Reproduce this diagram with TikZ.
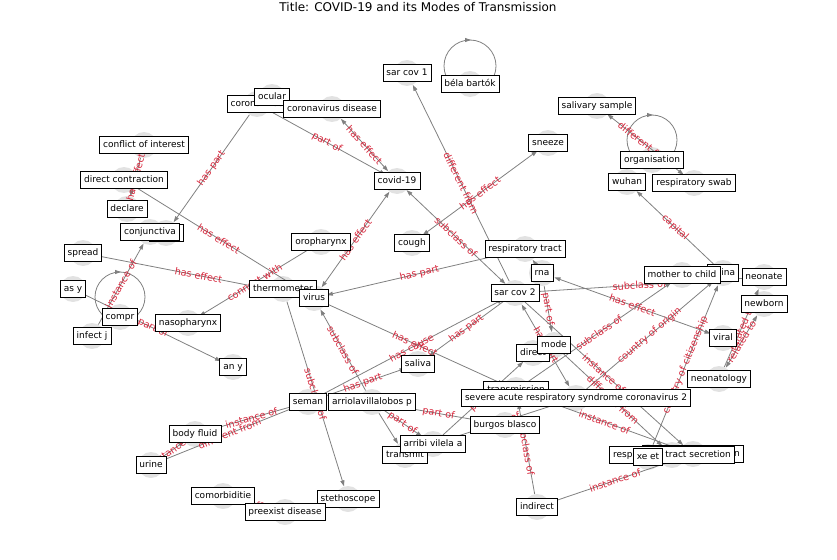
\documentclass[tikz,border=0pt]{standalone}
\usepackage{fontspec}
\setmainfont{DejaVu Sans}
\usetikzlibrary{arrows.meta}
\definecolor{elred}{RGB}{214,39,60}
\definecolor{ndgray}{RGB}{226,226,226}
\definecolor{edgray}{RGB}{128,128,128}
\newcommand\lbfont{\fontsize{9}{10}\selectfont}
\newcommand\elfont{\fontsize{9.7}{11}\selectfont}
\tikzset{
  nd/.style={circle, fill=ndgray, minimum size=26pt, inner sep=0pt},
  lb/.style={draw=black, fill=white, font=\lbfont, inner xsep=3.5pt, inner ysep=4pt,
             text height=6.9pt, text depth=2.1pt, line width=0.7pt},
  edline/.style={draw=edgray, line width=0.8pt},
  e/.style={edline, -{Triangle[length=6pt,width=4pt]}},
  eb/.style={edline, {Triangle[length=6pt,width=4pt]}-{Triangle[length=6pt,width=4pt]}},
  en/.style={edline},
  el/.style={midway, sloped, font=\elfont, text=elred, inner sep=0pt}
}
\begin{document}
\begin{tikzpicture}[x=1pt,y=-1pt]
\path[use as bounding box] (0,0) rectangle (837,559);
\node[font=\fontsize{12}{14}\selectfont] (title) at (418,7) {Title: COVID-19 and its Modes of Transmission};
% node circles
\node[nd] (sarcov1) at (407,73) {};
\node[nd] (bela) at (470,84) {};
\node[nd] (salivary) at (597,106) {};
\node[nd] (sneeze) at (548,143) {};
\node[nd] (organisation) at (652,160) {};
\node[nd] (wuhan) at (627,182) {};
\node[nd] (swab) at (694,183) {};
\node[nd] (china) at (723,273) {};
\node[nd] (mtc) at (682,275) {};
\node[nd] (neonate) at (764,277) {};
\node[nd] (newborn) at (764,304) {};
\node[nd] (viral) at (723,338) {};
\node[nd] (neonatology) at (719,379) {};
\node[nd] (resptract) at (525,249) {};
\node[nd] (rna) at (542,273) {};
\node[nd] (sarcov2) at (515,293) {};
\node[nd] (cough) at (412,243) {};
\node[nd] (covid) at (397,181) {};
\node[nd] (cordis) at (332,109) {};
\node[nd] (ocular) at (272,97) {};
\node[nd] (coron) at (257,104) {};
\node[nd] (coi) at (144,145) {};
\node[nd] (dircon) at (124,180) {};
\node[nd] (declare) at (127,209) {};
\node[nd] (conj) at (150,232) {};
\node[nd] (hid1) at (166,233) {};
\node[nd] (spread) at (83,253) {};
\node[nd] (asy) at (73,289) {};
\node[nd] (compr) at (120,317) {};
\node[nd] (infectj) at (92,336) {};
\node[nd] (naso) at (188,323) {};
\node[nd] (any) at (233,367) {};
\node[nd] (thermo) at (283,289) {};
\node[nd] (virus) at (314,298) {};
\node[nd] (oro) at (321,242) {};
\node[nd] (saliva) at (418,364) {};
\node[nd] (seman) at (308,402) {};
\node[nd] (arriola) at (372,402) {};
\node[nd] (arribi) at (433,444) {};
\node[nd] (transmit) at (405,455) {};
\node[nd] (burgos) at (505,425) {};
\node[nd] (transm) at (516,390) {};
\node[nd] (severe) at (576,398) {};
\node[nd] (direct) at (533,353) {};
\node[nd] (mode) at (554,345) {};
\node[nd] (indirect) at (537,507) {};
\node[nd] (respsec) at (693,454) {};
\node[nd] (rts) at (672,455) {};
\node[nd] (xeet) at (648,457) {};
\node[nd] (comorb) at (223,496) {};
\node[nd] (preexist) at (285,512) {};
\node[nd] (stetho) at (348,499) {};
\node[nd] (bodyfluid) at (195,434) {};
\node[nd] (urine) at (151,465) {};
% self loops
\draw[edline] (470,66) circle[radius=26pt];
\draw[e] (465,40) -- (471,40);
\draw[edline] (652,140) circle[radius=25pt];
\draw[e] (647,115) -- (653,115);
\draw[edline] (120,297) circle[radius=25pt];
\draw[e] (115,272) -- (121,272);
% edges
\draw[e] (coron) -- node[el]{has part} (hid1);
\draw[e] (coi) -- node[el]{has effect} (declare);
\draw[e] (dircon) -- node[el]{has effect} (virus);
\draw[e] (spread) -- node[el]{has effect} (virus);
\draw[e] (oro) -- node[el]{connect with} (naso);
\draw[eb] (virus) -- node[el]{has effect} (covid);
\draw[e] (coron) -- node[el]{part of} (covid);
\draw[eb] (cordis) -- node[el]{has effect} (covid);
\draw[eb] (covid) -- node[el]{subclass of} (sarcov2);
\draw[eb] (sneeze) -- node[el]{has effect} (cough);
\draw[e] (sarcov2) -- node[el]{different from} (sarcov1);
\draw[e] (resptract) -- node[el]{has part} (virus);
\draw[e] (rna) -- (resptract);
\draw[en] (sarcov2) -- node[el]{subclass of} (neonate);
\draw[eb] (rna) -- node[el]{has effect} (viral);
\draw[e] (rna) -- node[el]{part of} (mode);
\draw[eb] (sarcov2) -- node[el]{has part} (severe);
\draw[e] (seman) -- node[el]{has cause} (sarcov2);
\draw[e] (sarcov2) -- node[el]{has part} (saliva);
\draw[e] (virus) -- node[el]{has effect} (transm);
\draw[e] (seman) -- node[el]{has part} (saliva);
\draw[e] (arriola) -- node[el]{subclass of} (virus);
\draw[e] (thermo) -- node[el]{subclass of} (stetho);
\draw[e] (urine) -- node[el]{different from} (seman);
\draw[e] (urine) -- node[el]{instance of} (bodyfluid);
\draw[e] (bodyfluid) -- node[el]{instance of} (seman);
\draw[e] (arriola) -- (transmit);
\draw[e] (arriola) -- node[el]{part of} (arribi);
\draw[e] (arriola) -- node[el]{part of} (burgos);
\draw[e] (arribi) -- node[el]{part of} (direct);
\draw[e] (arribi) -- node[el]{part of} (severe);
\draw[e] (indirect) -- node[el]{subclass of} (transm);
\draw[e] (severe) -- node[el]{country of origin} (china);
\draw[e] (xeet) -- node[el]{country of citizenship} (china);
\draw[e] (transm) -- node[el]{subclass of} (mtc);
\draw[e] (sarcov2) -- node[el]{instance of} (respsec);
\draw[e] (mode) -- node[el]{different from} (rts);
\draw[e] (transm) -- node[el]{instance of} (respsec);
\draw[e] (indirect) -- node[el]{instance of} (respsec);
\draw[e] (china) -- node[el]{capital} (wuhan);
\draw[eb] (swab) -- node[el]{different from} (salivary);
\draw[e] (neonatology) -- node[el]{related to} (neonate);
\draw[eb] (neonatology) -- node[el]{related to} (newborn);
\draw[e] (asy) -- node[el]{part of} (any);
\draw[e] (infectj) -- node[el]{instance of} (conj);
\draw[eb] (comorb) -- node[el]{has effect} (preexist);
% label boxes
\node[lb] (b-sarcov1) at (sarcov1) {sar cov 1};
\node[lb] (b-bela) at (bela) {béla bartók};
\node[lb] (b-salivary) at (salivary) {salivary sample};
\node[lb] (b-sneeze) at (sneeze) {sneeze};
\node[lb] (b-organisation) at (organisation) {organisation};
\node[lb] (b-wuhan) at (wuhan) {wuhan};
\node[lb] (b-swab) at (swab) {respiratory swab};
\node[lb] (b-china) at (china) {china};
\node[lb] (b-mtc) at (mtc) {mother to child};
\node[lb] (b-neonate) at (neonate) {neonate};
\node[lb] (b-newborn) at (newborn) {newborn};
\node[lb] (b-viral) at (viral) {viral};
\node[lb] (b-neonatology) at (neonatology) {neonatology};
\node[lb] (b-resptract) at (resptract) {respiratory tract};
\node[lb] (b-rna) at (rna) {rna};
\node[lb] (b-sarcov2) at (sarcov2) {sar cov 2};
\node[lb] (b-cough) at (cough) {cough};
\node[lb] (b-covid) at (covid) {covid-19};
\node[lb] (b-coron) at (coron) {coronavirus};
\node[lb] (b-ocular) at (ocular) {ocular};
\node[lb] (b-cordis) at (cordis) {coronavirus disease};
\node[lb] (b-coi) at (coi) {conflict of interest};
\node[lb] (b-dircon) at (dircon) {direct contraction};
\node[lb] (b-declare) at (declare) {declare};
\node[lb, minimum width=34pt] (b-hid1) at (hid1) {};
\node[lb] (b-conj) at (conj) {conjunctiva};
\node[lb] (b-spread) at (spread) {spread};
\node[lb] (b-asy) at (asy) {as y};
\node[lb] (b-compr) at (compr) {compr};
\node[lb] (b-infectj) at (infectj) {infect j};
\node[lb] (b-naso) at (naso) {nasopharynx};
\node[lb] (b-any) at (any) {an y};
\node[lb] (b-thermo) at (thermo) {thermometer};
\node[lb] (b-virus) at (virus) {virus};
\node[lb] (b-oro) at (oro) {oropharynx};
\node[lb] (b-saliva) at (saliva) {saliva};
\node[lb] (b-seman) at (seman) {seman};
\node[lb] (b-arriola) at (arriola) {arriolavillalobos p};
\node[lb] (b-transmit) at (transmit) {transmit};
\node[lb] (b-arribi) at (arribi) {arribi vilela a};
\node[lb] (b-burgos) at (burgos) {burgos blasco};
\node[lb] (b-transm) at (transm) {transmission};
\node[lb] (b-severe) at (severe) {severe acute respiratory syndrome coronavirus 2};
\node[lb] (b-direct) at (direct) {direct};
\node[lb] (b-mode) at (mode) {mode};
\node[lb] (b-indirect) at (indirect) {indirect};
\node[lb] (b-respsec) at (respsec) {respiratory secretion};
\node[lb] (b-rts) at (rts) {respiratory tract secretion};
\node[lb] (b-xeet) at (xeet) {xe et};
\node[lb] (b-comorb) at (comorb) {comorbiditie};
\node[lb] (b-stetho) at (stetho) {stethoscope};
\node[lb] (b-preexist) at (preexist) {preexist disease};
\node[lb] (b-bodyfluid) at (bodyfluid) {body fluid};
\node[lb] (b-urine) at (urine) {urine};
\end{tikzpicture}
\end{document}
